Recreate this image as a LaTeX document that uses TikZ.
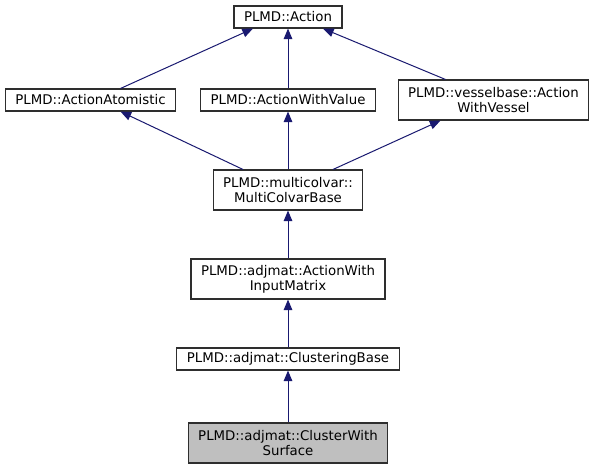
\documentclass[tikz,border=0pt]{standalone}
\usepackage{fontspec}
\setmainfont{DejaVu Sans}
\usetikzlibrary{arrows.meta,calc}
\definecolor{edgecol}{HTML}{191970}
\definecolor{boxline}{HTML}{2E2E2E}
\definecolor{cur}{HTML}{BFBFBF}
\begin{document}
\begin{tikzpicture}[x=0.75pt,y=-0.75pt,
  cls/.style={draw=boxline, line width=0.8pt, fill=white, font=\fontsize{10}{11}\selectfont, align=center, inner xsep=7.5pt, inner ysep=0pt},
  one/.style={cls, minimum height=16.5pt},
  two/.style={cls, minimum height=30pt},
  inh/.style={draw=edgecol, line width=0.75pt, -{Triangle[length=8pt,width=6.5pt]}}]
\useasboundingbox[fill=white] (0,0) rectangle (595,469);
\node[one] (act) at (288,17) {PLMD::Action};
\node[one] (atom) at (90.5,100) {PLMD::ActionAtomistic};
\node[one] (wv) at (288,100) {PLMD::ActionWithValue};
\node[two] (ves) at (493.5,100) {PLMD::vesselbase::Action\\WithVessel};
\node[two] (mcb) at (288,190) {PLMD::multicolvar::\\MultiColvarBase};
\node[two] (aim) at (288,279) {PLMD::adjmat::ActionWith\\InputMatrix};
\node[one] (cb) at (288,359) {PLMD::adjmat::ClusteringBase};
\node[two, fill=cur] (cws) at (288,443) {PLMD::adjmat::ClusterWith\\Surface};
\draw[inh] ($(atom.north)+(30,0)$) -- ($(act.south)+(-35,0)$);
\draw[inh] (wv.north) -- (act.south);
\draw[inh] ($(ves.north)+(-48,0)$) -- ($(act.south)+(35,0)$);
\draw[inh] ($(mcb.north)+(-45,0)$) -- ($(atom.south)+(30,0)$);
\draw[inh] (mcb.north) -- (wv.south);
\draw[inh] ($(mcb.north)+(45,0)$) -- ($(ves.south)+(-53,0)$);
\draw[inh] (aim.north) -- (mcb.south);
\draw[inh] (cb.north) -- (aim.south);
\draw[inh] (cws.north) -- (cb.south);
\end{tikzpicture}
\end{document}
